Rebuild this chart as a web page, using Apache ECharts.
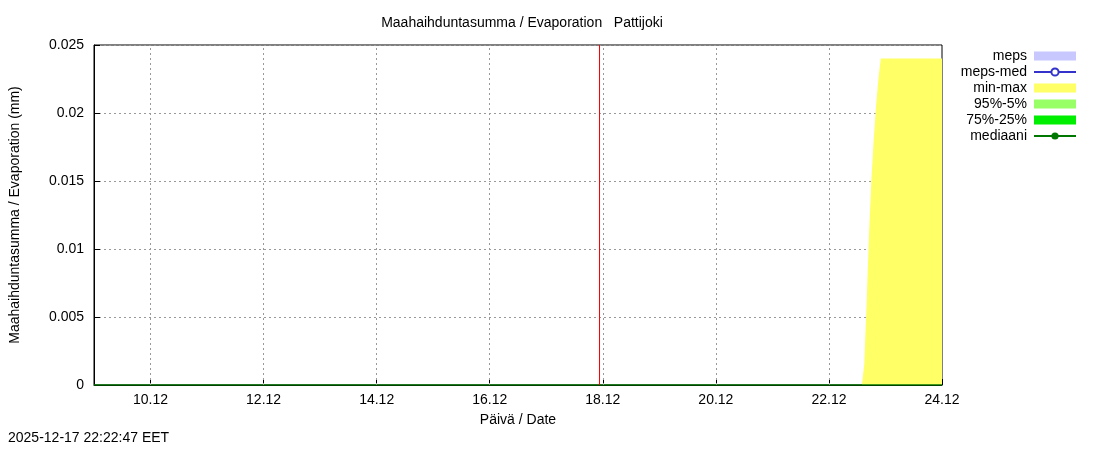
<!DOCTYPE html>
<html lang="en">
<head>
  <meta charset="UTF-8">
  <script src="https://cdn.jsdelivr.net/npm/echarts/dist/echarts.min.js"></script>
  <style>
    body { margin: 0; background: #fff; }
    #chart { width: 1100px; height: 450px; }
  </style>
</head>
<body>
  <div id="chart"></div>
  <script>
    // x is measured in days since 9.12 00:00
    const tickDays = [1, 3, 5, 7, 9, 11, 13, 15];
    const tickLabels = ['10.12', '12.12', '14.12', '16.12', '18.12', '20.12', '22.12', '24.12'];
    // min-max band: hourly points on 22.12 (day 13), then flat to the end
    const bandDays = [13 + 14/24, 13 + 15/24, 13 + 16/24, 13 + 17/24, 13 + 18/24,
      13 + 19/24, 13 + 20/24, 13 + 21/24, 13 + 22/24, 15];
    const bandMax = [0, 0.0015, 0.006, 0.011, 0.015, 0.018, 0.0205, 0.0225, 0.024, 0.024];
    const baseDays = [0, 15];
    const baseValues = [0, 0];
    const nowDay = 8 + 22.37/24;

    const font = 'Liberation Sans, Arial, sans-serif';
    const chart = echarts.init(document.getElementById('chart'));
    chart.setOption({
      animation: false,
      textStyle: { fontFamily: font },
      title: {
        text: 'Maahaihduntasumma / Evaporation   Pattijoki',
        left: 517, top: 11, textAlign: 'center',
        textStyle: { fontSize: 14, fontWeight: 'normal', color: '#000', fontFamily: font }
      },
      grid: { left: 91, right: 158, top: 45, bottom: 65, show: true, borderColor: '#000', borderWidth: 1 },
      legend: {
        orient: 'vertical', right: 18, top: 44, align: 'right', itemGap: 2,
        itemWidth: 42, itemHeight: 9,
        textStyle: { fontSize: 14, color: '#000', fontFamily: font, padding: [0, 2, 0, 0] },
        data: [
          { name: 'meps', icon: 'rect' }, { name: 'meps-med' }, { name: 'min-max', icon: 'rect' },
          { name: '95%-5%', icon: 'rect' }, { name: '75%-25%', icon: 'rect' }, { name: 'mediaani' }
        ]
      },
      xAxis: {
        type: 'value', min: 0, max: 15,
        name: 'Päivä / Date', nameLocation: 'middle', nameGap: 28,
        nameTextStyle: { fontSize: 14, color: '#000' },
        axisLine: { lineStyle: { color: '#000' } },
        axisTick: { inside: true, length: 6, lineStyle: { color: '#000' }, customValues: tickDays },
        axisLabel: {
          fontSize: 14, color: '#000', customValues: tickDays,
          formatter: v => tickLabels[tickDays.indexOf(Math.round(v))] || ''
        },
        splitLine: { show: false }
      },
      yAxis: {
        type: 'value', min: 0, max: 0.025, interval: 0.005,
        name: 'Maahaihduntasumma / Evaporation (mm)', nameLocation: 'middle', nameGap: 72,
        nameTextStyle: { fontSize: 14, color: '#000' },
        axisLine: { show: true, lineStyle: { color: '#000' } },
        axisTick: { inside: true, length: 6, lineStyle: { color: '#000' } },
        axisLabel: { fontSize: 14, color: '#000', margin: 10 },
        splitLine: { lineStyle: { color: '#999', type: [2, 3] } }
      },
      series: [
        { name: 'meps', type: 'line', data: [], itemStyle: { color: '#c8c8ff' } },
        { name: 'meps-med', type: 'line', data: [], itemStyle: { color: '#3333cc' } },
        {
          name: 'min-max', type: 'line', symbol: 'none',
          data: bandDays.map((d, i) => [d, bandMax[i]]),
          lineStyle: { width: 0 }, itemStyle: { color: '#ffff66' },
          areaStyle: { color: '#ffff66', opacity: 1 },
          markLine: {
            symbol: 'none', silent: true, label: { show: false },
            lineStyle: { color: '#999', width: 1, type: [2, 3] },
            data: tickDays.slice(0, -1).map(d => ({ xAxis: d }))
          }
        },
        { name: '95%-5%', type: 'line', data: [], itemStyle: { color: '#99ff66' } },
        { name: '75%-25%', type: 'line', data: [], itemStyle: { color: '#00ee00' } },
        {
          name: 'mediaani', type: 'line', symbol: 'none',
          data: baseDays.map((d, i) => [d, baseValues[i]]),
          lineStyle: { color: '#007700', width: 1.5 }, itemStyle: { color: '#007700' },
          markLine: {
            symbol: 'none', silent: true, label: { show: false },
            lineStyle: { color: '#ff0000', width: 1, type: 'solid' },
            data: [{ xAxis: nowDay }]
          }
        }
      ],
      graphic: [{
        type: 'text', left: 8, top: 431,
        style: { text: '2025-12-17 22:22:47 EET', fontSize: 14, fill: '#000', fontFamily: font }
      }]
    });
  </script>
</body>
</html>
